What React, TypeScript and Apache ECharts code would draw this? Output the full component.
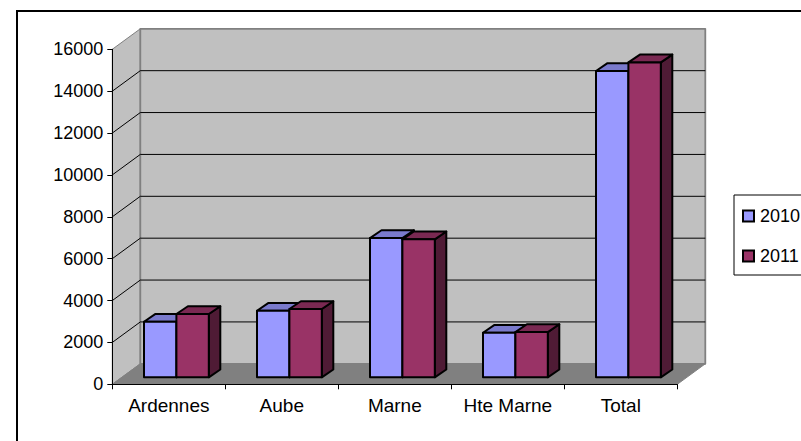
import React, { useEffect, useRef } from "react";
import * as echarts from "echarts";

const categories = ["Ardennes", "Aube", "Marne", "Hte Marne", "Total"];
const values2010 = [2655, 3180, 6650, 2130, 14630];
const values2011 = [3022, 3260, 6590, 2160, 15040];
const gridTicks = [2000, 4000, 6000, 8000, 10000, 12000, 14000, 16000];

const FONT = "Liberation Sans";
const WALL_DX = 28;
const WALL_DY = -20.5;
const BASE_DY = -7;
const BAR_DX = 11.5;
const BAR_DY = -7.8;
const BAR_W = 32.4;
const BAR_START = -24.8;

function poly(points: number[][], fill: string, stroke: string, lineWidth: number) {
  return { type: "polygon", shape: { points }, style: { fill, stroke, lineWidth, lineJoin: "round" }, silent: true };
}
function seg(a: number[], b: number[], stroke: string, lineWidth: number) {
  return {
    type: "line",
    shape: { x1: a[0], y1: a[1], x2: b[0], y2: b[1] },
    style: { stroke, lineWidth },
    silent: true,
  };
}

function bounds(api: any) {
  const c0 = api.coord([0, 0]);
  const band = api.size([1, 0])[0];
  const left = c0[0] - band / 2;
  return { left, right: left + band * categories.length, bottom: c0[1], top: api.coord([0, 16000])[1] };
}

function renderWalls(_p: any, api: any) {
  const { left, right, bottom, top } = bounds(api);
  const bx = left + WALL_DX;
  const rx = right + WALL_DX;
  const by = bottom + WALL_DY;
  const ty = top + WALL_DY;
  return {
    type: "group",
    children: [
      poly([[left, bottom], [bx, by], [bx, ty], [left, top]], "#C0C0C0", "#808080", 1),
      poly([[bx, by], [rx, by], [rx, ty], [bx, ty]], "#C0C0C0", "#808080", 1.8),
      poly([[left, bottom], [right, bottom], [rx, by], [bx, by]], "#808080", "#808080", 1),
    ],
  };
}

function renderGrid(_p: any, api: any) {
  const { left, right } = bounds(api);
  const y = api.coord([0, api.value(1)])[1];
  const children: any[] = [];
  if (api.value(1) < 16000) {
    children.push(seg([left, y], [left + WALL_DX, y + WALL_DY], "#000", 1));
    children.push(seg([left + WALL_DX, y + WALL_DY], [right + WALL_DX, y + WALL_DY], "#000", 1));
  }
  return { type: "group", children };
}

function barRenderer(seriesIndex: number, front: string, topFace: string, side: string) {
  return (_p: any, api: any) => {
    const c = api.coord([api.value(0), api.value(1)]);
    const base = api.coord([api.value(0), 0]);
    const x0 = c[0] + BAR_START + seriesIndex * BAR_W;
    const x1 = x0 + BAR_W;
    const y0 = base[1] + BASE_DY;
    const y1 = c[1] + BASE_DY;
    const dx = BAR_DX;
    const dy = BAR_DY;
    const lw = 2;
    return {
      type: "group",
      children: [
        poly([[x1, y0], [x1 + dx, y0 + dy], [x1 + dx, y1 + dy], [x1, y1]], side, "#000", lw),
        poly([[x0, y1], [x1, y1], [x1 + dx, y1 + dy], [x0 + dx, y1 + dy]], topFace, "#000", lw),
        poly([[x0, y0], [x1, y0], [x1, y1], [x0, y1]], front, "#000", lw),
      ],
    };
  };
}

export default function App() {
  const ref = useRef<HTMLDivElement>(null);
  useEffect(() => {
    const chart = echarts.init(ref.current!, undefined, { renderer: "svg" });
    chart.setOption({
      animation: false,
      backgroundColor: "#fff",
      textStyle: { fontFamily: FONT },
      grid: { left: 112.3, top: 49.3, width: 565, height: 335, containLabel: false },
      xAxis: {
        type: "category",
        data: categories,
        z: 5,
        boundaryGap: true,
        axisLine: { show: true, lineStyle: { color: "#000", width: 1 } },
        axisTick: { show: true, length: 5, lineStyle: { color: "#000", width: 1 } },
        axisLabel: { color: "#000", fontSize: 19, fontFamily: FONT, margin: 12, interval: 0 },
        splitLine: { show: false },
      },
      yAxis: {
        type: "value",
        min: 0,
        max: 16000,
        interval: 2000,
        z: 5,
        axisLine: { show: true, lineStyle: { color: "#000", width: 1 } },
        axisTick: { show: true, length: 5, lineStyle: { color: "#000", width: 1 } },
        axisLabel: { color: "#000", fontSize: 18, fontFamily: FONT, margin: 9, formatter: (v: number) => String(v) },
        splitLine: { show: false },
      },
      legend: {
        left: 734,
        top: 195,
        orient: "vertical",
        data: ["2010", "2011"],
        selectedMode: false,
        icon: "rect",
        itemWidth: 11,
        itemHeight: 11,
        itemGap: 22,
        padding: [12, 8, 10, 8],
        borderColor: "#000",
        borderWidth: 1,
        backgroundColor: "#fff",
        textStyle: { color: "#000", fontSize: 18, fontFamily: FONT, padding: [0, 0, 0, 1] },
      },
      series: [
        { type: "custom", name: "walls", z: 1, silent: true, clip: false, renderItem: renderWalls, data: [[0, 0]] },
        {
          type: "custom",
          name: "grid",
          z: 1.5,
          silent: true,
          clip: false,
          renderItem: renderGrid,
          data: gridTicks.map((t) => [0, t]),
        },
        {
          type: "custom",
          name: "2010",
          z: 2,
          clip: false,
          renderItem: barRenderer(0, "#9999FF", "#7A7ACC", "#4F4F85"),
          itemStyle: { color: "#9999FF", borderColor: "#000", borderWidth: 1.5 },
          data: values2010.map((v, i) => [i, v]),
        },
        {
          type: "custom",
          name: "2011",
          z: 3,
          clip: false,
          renderItem: barRenderer(1, "#993366", "#7A2952", "#4F1B35"),
          itemStyle: { color: "#993366", borderColor: "#000", borderWidth: 1.5 },
          data: values2011.map((v, i) => [i, v]),
        },
      ],
      graphic: [
        {
          type: "rect",
          z: 10,
          silent: true,
          shape: { x: 17, y: 11, width: 900, height: 500 },
          style: { fill: "none", stroke: "#000", lineWidth: 2 },
        },
      ],
    });
    return () => chart.dispose();
  }, []);
  return <div ref={ref} style={{ position: "fixed", left: 0, top: 0, width: 801, height: 441 }} />;
}
